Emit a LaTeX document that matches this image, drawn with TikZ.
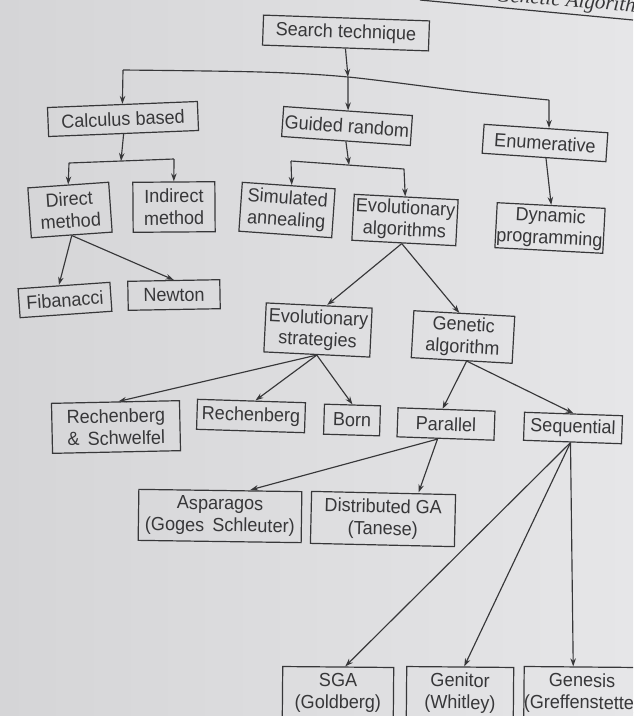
\documentclass[tikz,border=0pt]{standalone}
\usepackage{fontspec}
\setmainfont{Liberation Sans}[FakeStretch=0.95]
\newfontfamily\headerfont{Liberation Serif}
\usetikzlibrary{arrows.meta}
\definecolor{paperL}{RGB}{213,213,215}
\definecolor{paperR}{RGB}{230,230,232}
\definecolor{ink}{RGB}{55,55,57}
\begin{document}
\begin{tikzpicture}[x=1pt,y=-1pt,
  box/.style={draw=ink, line width=1.2pt, text=ink, align=center, inner sep=0pt,
    font=\fontsize{19}{22}\selectfont},
  link/.style={draw=ink, line width=1.15pt},
  arr/.style={link, -{Stealth[length=8pt,width=5.5pt]}}]

\clip (0,0) rectangle (633,716);
\useasboundingbox (0,0) rectangle (633,716);
\shade[left color=paperL, right color=paperR] (0,0) rectangle (633,716);

% running head of the page
\draw[ink, line width=1.2pt] (420,0) -- (633,20);
\node[font=\headerfont\itshape\fontsize{21}{21}\selectfont, text=ink, anchor=base west,
      rotate=-4.5, inner sep=0pt] (head) at (495,1) {Genetic Algorithms};

% boxes
\node[box, minimum width=166pt, minimum height=30pt, rotate=-2]   (st)  at (346,33)  {Search technique};
\node[box, minimum width=150pt, minimum height=29pt, rotate=2.3]  (cb)  at (123,119) {Calculus based};
\node[box, minimum width=129pt, minimum height=30pt, rotate=-4]   (gr)  at (347,126) {Guided random};
\node[box, minimum width=124pt, minimum height=29pt, rotate=-3.9] (en)  at (545,143) {Enumerative};
\node[box, minimum width=81pt,  minimum height=50pt, rotate=4]    (dm)  at (70,210)  {Direct\\method};
\node[box, minimum width=82pt,  minimum height=50pt, rotate=0.4]  (im)  at (174,207) {Indirect\\method};
\node[box, minimum width=93pt,  minimum height=49pt, rotate=-4]   (sa)  at (287,210) {Simulated\\annealing};
\node[box, minimum width=104pt, minimum height=46pt, rotate=-3]   (ea)  at (405,220) {Evolutionary\\algorithms};
\node[box, minimum width=108pt, minimum height=45pt, rotate=-3]   (dp)  at (550,228) {Dynamic\\programming};
\node[box, minimum width=92pt,  minimum height=29pt, rotate=4]    (fib) at (65,300)  {Fibanacci};
\node[box, minimum width=92pt,  minimum height=29pt, rotate=1]    (nw)  at (174,295) {Newton};
\node[box, minimum width=106pt, minimum height=49pt, rotate=-2.8] (es)  at (318,330) {Evolutionary\\strategies};
\node[box, minimum width=101pt, minimum height=47pt, rotate=-3.2] (ga)  at (463,337) {Genetic\\algorithm};
\node[box, minimum width=128pt, minimum height=50pt, rotate=1.2]  (rs)  at (116,427) {Rechenberg\\\&\ \,Schwelfel};
\node[box, minimum width=108pt, minimum height=30pt, rotate=-1.8] (rb)  at (251,416) {Rechenberg};
\node[box, minimum width=56pt,  minimum height=30pt, rotate=-1.7] (bn)  at (352,420) {Born};
\node[box, minimum width=97pt,  minimum height=29pt, rotate=-2]   (par) at (446,424) {Parallel};
\node[box, minimum width=98pt,  minimum height=28pt, rotate=-2]   (seq) at (573,428) {Sequential};
\node[box, minimum width=163pt, minimum height=51pt, rotate=-0.8] (asp) at (220,516) {Asparagos\\(Goges\ \,Schleuter)};
\node[box, minimum width=144pt, minimum height=52pt, rotate=-1.3] (dga) at (383,519) {Distributed GA\\(Tanese)};
\node[box, minimum width=111pt, minimum height=52pt, rotate=-0.5] (sga) at (338,693) {SGA\\(Goldberg)};
\node[box, minimum width=107pt, minimum height=52pt, rotate=-0.5] (gtr) at (460,693) {Genitor\\(Whitley)};
\node[box, minimum width=108pt, minimum height=52pt, rotate=-0.5] (gns) at (582,693) {Genesis\\(Greffenstette)};

% top level split
\coordinate (lc) at (123,70);
\coordinate (j0) at (348,77);
\coordinate (rc) at (549,100);
\draw[link] plot[smooth] coordinates {(lc) (260,72) (j0) (470,92) (rc)};
\draw[arr] (st.south) -- (j0);
\draw[arr] (j0) -- (gr.north);
\draw[arr] (lc) -- (cb.north);
\draw[arr] (rc) -- ([xshift=3pt]en.north);

% calculus based
\coordinate (cL) at (69,163);
\coordinate (cJ) at (121,161);
\coordinate (cR) at (174,159);
\draw[link] (cL) -- (cR);
\draw[arr] (cb.south) -- (cJ);
\draw[arr] (cL) -- (dm.north);
\draw[arr] (cR) -- (im.north);

% guided random
\coordinate (gL) at (291,161);
\coordinate (gJ) at (349,165);
\coordinate (gR) at (404,169);
\draw[link] (gL) -- (gR);
\draw[arr] (gr.south) -- (gJ);
\draw[arr] (gL) -- ([xshift=3pt]sa.north);
\draw[arr] (gR) -- ([xshift=-1pt]ea.north);

% enumerative
\draw[arr] ([xshift=2pt]en.south) -- (dp.north);

% direct method
\draw[arr] (dm.south) -- ([xshift=-5pt]fib.north);
\draw[arr] (dm.south) -- (nw.north);

% evolutionary algorithms
\draw[arr] ([xshift=-2pt]ea.south) -- ([xshift=8pt]es.north);
\draw[arr] ([xshift=-2pt]ea.south) -- ([xshift=-5pt]ga.north);

% evolutionary strategies
\draw[arr] (es.south) -- ([xshift=3pt]rs.north);
\draw[arr] (es.south) -- ([xshift=4pt]rb.north);
\draw[arr] (es.south) -- (bn.north);

% genetic algorithm
\draw[arr] ([xshift=5pt]ga.south) -- ([xshift=-4pt]par.north);
\draw[arr] ([xshift=5pt]ga.south) -- (seq.north);

% parallel
\draw[arr] ([xshift=-8pt]par.south) -- ([xshift=30pt]asp.north);
\draw[arr] ([xshift=-8pt]par.south) -- ([xshift=35pt]dga.north);

% sequential
\draw[arr] ([xshift=-2pt]seq.south) -- ([xshift=7pt]sga.north);
\draw[arr] ([xshift=-2pt]seq.south) -- ([xshift=4pt]gtr.north);
\draw[arr] ([xshift=-2pt]seq.south) -- ([xshift=-9pt]gns.north);
\end{tikzpicture}
\end{document}
